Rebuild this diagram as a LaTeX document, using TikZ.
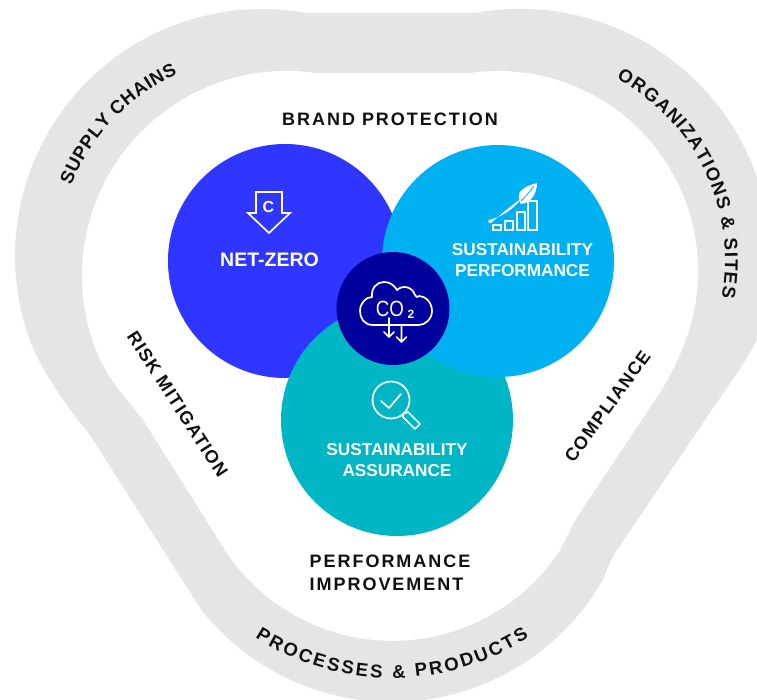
\documentclass[tikz,border=0pt]{standalone}
\usepackage{fontspec}
\setmainfont{Liberation Sans}
\usetikzlibrary{decorations.text}
\definecolor{band}{HTML}{E5E5E5}
\definecolor{netblue}{HTML}{2F36FF}
\definecolor{perfblue}{HTML}{00B0F0}
\definecolor{assurteal}{HTML}{00B5C4}
\definecolor{coredark}{HTML}{00009C}
\definecolor{labelink}{HTML}{101010}
\newcommand{\bandfont}{\fontsize{18.5}{18}\selectfont\bfseries}
\tikzset{
  circ/.style={circle,minimum size=#1,inner sep=0pt,draw=none},
  wtext/.style={text=white,font=\fontsize{17.2}{21}\selectfont\bfseries,align=center,inner sep=0pt},
  blabel/.style={text=labelink,font=\fontsize{18}{23}\selectfont\bfseries\addfontfeature{LetterSpace=11},align=left,inner sep=0pt},
  slabel/.style={text=labelink,font=\fontsize{18}{23}\selectfont\bfseries\addfontfeature{LetterSpace=7},inner sep=0pt},
  icon/.style={draw=white,line width=1.7pt,line join=round,line cap=round},
  bandtext/.style={decorate,decoration={text along path,text align={fit to path},text color=labelink,text={#1}}}
}
\begin{document}
\begin{tikzpicture}[x=1pt,y=1pt]
\useasboundingbox (0,-699) rectangle (757,0);
\clip (0,-699) rectangle (757,0);
% outer band
\fill[band] (305,-12.7) -- (476.4,-12.7) arc[start angle=100,end angle=-17,radius=251]
  .. controls (748,-360) and (725,-390) .. (707,-417) -- (615,-553)
  .. controls (610,-562) and (607,-570) .. (602.4,-580.5)
  arc[start angle=-30,end angle=-142,radius=243]
  -- (88,-432) .. controls (73,-415) and (41,-371) .. (30,-340.5)
  arc[start angle=200,end angle=80,radius=247] -- cycle;
\fill[white] (312,-73) -- (470.2,-73) arc[start angle=98,end angle=-10,radius=200]
  .. controls (690,-335) and (675,-370) .. (657,-397) -- (577,-517)
  .. controls (570,-530) and (568,-535) .. (560,-550)
  arc[start angle=-33.1,end angle=-148,radius=200]
  -- (142,-418) .. controls (125,-398) and (105,-375) .. (94.4,-346)
  arc[start angle=200,end angle=83,radius=205] -- cycle;
% circles
\node[circ=234pt,fill=netblue] (net) at (285,-261) {};
\node[circ=232pt,fill=assurteal] (assur) at (397,-420) {};
\node[circ=232pt,fill=perfblue] (perf) at (498,-261) {};
\node[circ=113pt,fill=coredark] (core) at (393,-308.5) {};
% circle labels
\node[wtext,font=\fontsize{19.5}{21}\selectfont\bfseries] (netl) at (269.5,-260) {NET-ZERO};
\node[wtext] (perfl) at (522.5,-260.5) {SUSTAINABILITY\\PERFORMANCE};
\node[wtext] (assurl) at (397,-460.5) {SUSTAINABILITY\\ASSURANCE};
% black labels
\node[blabel] (brand) at (390,-119.5) {BRAND PROTECTION};
\node[blabel] (improve) at (390,-572.5) {PERFORMANCE\\IMPROVEMENT};
\node[slabel,rotate=-57] (risk) at (177.5,-404) {RISK MITIGATION};
\node[slabel,rotate=54] (comp) at (607.5,-406.5) {COMPLIANCE};
% band labels
\path[bandtext={|\bandfont|SUPPLY CHAINS}] (260,-260) ++(158.5:203) arc[start angle=158.5,end angle=114,radius=203];
\path[bandtext={|\bandfont|ORGANIZATIONS {\&} SITES}] (520,-260) ++(62:205) arc[start angle=62,end angle=-10.5,radius=205];
\path[bandtext={|\bandfont|PROCESSES {\&} PRODUCTS}] (392,-428) ++(236.8:250) arc[start angle=236.8,end angle=303.2,radius=250];
% net-zero icon
\draw[icon,line cap=butt,line join=miter] (256,-192) -- (282,-192) -- (282,-213) -- (290,-213) -- (269,-233) -- (248,-213) -- (256,-213) -- cycle;
\node[text=white,font=\fontsize{16}{16}\selectfont\bfseries,inner sep=0pt] (cmark) at (268.5,-207) {C};
% performance icon
\foreach \xa/\ya/\xb in {493/-225/501,505/-221/513,517/-212/525,528/-201/537}
  \draw[icon,line cap=butt,line join=miter] (\xa,-230) rectangle (\xb,\ya);
\fill[white] (489,-220) .. controls (501,-217) and (513,-210) .. (522,-198) .. controls (512,-205) and (501,-214) .. (491,-223) .. controls (488,-223) and (487,-221) .. (489,-220) -- cycle;
\fill[white] (519,-199) .. controls (517,-191) and (525,-186) .. (537,-183) .. controls (537,-192) and (532,-203) .. (521,-204) .. controls (520,-202) and (519,-201) .. (519,-199) -- cycle;
\draw[perfblue,line width=0.8pt] (521,-201) .. controls (525,-197) and (529,-193) .. (534,-186);
% CO2 cloud
\draw[icon] (373,-325) .. controls (364,-325) and (360,-318) .. (360,-311)
  .. controls (360,-303) and (366,-297) .. (372,-297)
  .. controls (371,-288) and (377,-282) .. (384,-282)
  .. controls (390,-282) and (394,-285) .. (397,-290)
  .. controls (402,-285) and (412,-286) .. (415,-295)
  .. controls (417,-298) and (418,-297) .. (419,-296)
  .. controls (425,-296) and (432,-302) .. (432,-311)
  .. controls (432,-319) and (425,-325) .. (419,-325) -- (373,-325);
\node[text=white,font=\fontsize{22}{22}\selectfont,inner sep=0pt,xscale=0.85] (co) at (390,-309) {CO};
\node[text=white,font=\fontsize{12}{12}\selectfont\bfseries,inner sep=0pt] (two) at (411,-314) {2};
\draw[icon] (389,-318) -- (389,-337) (384,-332) -- (389,-337) -- (394,-332);
\draw[icon] (401.5,-325) -- (401.5,-342) (396.5,-337) -- (401.5,-342) -- (406.5,-337);
% magnifier icon
\draw[icon] (391,-400) circle[radius=18.5];
\draw[icon] (381,-401) -- (389,-408) -- (401,-394);
\draw[icon] (403,-414) -- (408,-412) -- (420,-424) -- (415,-429) -- (403,-417) -- cycle;
\end{tikzpicture}
\end{document}
